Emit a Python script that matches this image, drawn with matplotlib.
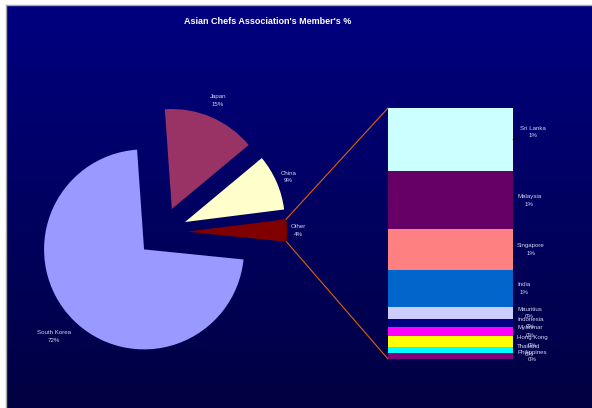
import numpy as np
import matplotlib
matplotlib.use('Agg')
import matplotlib.pyplot as plt
from matplotlib.patches import ConnectionPatch
from matplotlib.colors import LinearSegmentedColormap

# ---------------- data ----------------
title = "Asian Chefs Association's Member's %"

pie_labels = ['Japan', 'China', 'Other', 'South Korea']
pie_members = [363, 218, 87, 1742]
pie_colors = ['#993366', '#FFFFCC', '#800000', '#9999FF']

other_labels = ['Sri Lanka', 'Malaysia', 'Singapore', 'India', 'Mauritius',
                'Indonesia', 'Myanmar', 'Hong Kong', 'Thailand', 'Philippines']
other_members = [22, 20, 14, 13, 4, 3, 3, 4, 2, 2]
other_colors = ['#CCFFFF', '#660066', '#FF8080', '#0066CC', '#CCCCFF',
                '#000080', '#FF00FF', '#FFFF00', '#00FFFF', '#800080']

total = sum(pie_members)
label_color = '#D4D4F4'
font = 'Liberation Sans'
fs = 4.4
label_dist = [1.18, 1.13, 1.11, 1.25]   # layout: label distance per slice

# ---------------- figure ----------------
W, H = 592, 408
fig = plt.figure(figsize=(W / 100, H / 100), dpi=100)
fig.patch.set_facecolor('white')

# gradient background panel
bg = fig.add_axes([6 / W, 0, (W - 6) / W, (H - 5) / H])
grad = np.linspace(0, 1, 256).reshape(-1, 1)
cmap = LinearSegmentedColormap.from_list('bg', ['#000080', '#000042'])
bg.imshow(grad, aspect='auto', cmap=cmap, extent=[0, 1, 0, 1], origin='upper')
bg.set_xticks([])
bg.set_yticks([])
for s in ['right', 'bottom']:
    bg.spines[s].set_visible(False)
for s in ['left', 'top']:
    bg.spines[s].set_color('#A8A8A8')
    bg.spines[s].set_linewidth(1.0)

# pie axes (1 unit = 100 px)
ax = fig.add_axes([0, 0, 1, 1])
ax.patch.set_alpha(0)
wedges, _ = ax.pie(pie_members, colors=pie_colors, startangle=94, counterclock=False,
                   radius=1.0, center=(1.62, 1.76), explode=[0.25] * 4,
                   wedgeprops=dict(linewidth=0))
ax.set_xlim(0, W / 100)
ax.set_ylim(0, H / 100)
ax.set_axis_off()

for w, lab, m, d in zip(wedges, pie_labels, pie_members, label_dist):
    th = np.deg2rad((w.theta1 + w.theta2) / 2)
    cx, cy = w.center
    ax.text(cx + d * w.r * np.cos(th), cy + d * w.r * np.sin(th),
            f'{lab}\n{round(m / total * 100)}%', ha='center', va='center',
            multialignment='center', color=label_color, fontsize=fs,
            linespacing=1.6, family=font)

# bar of "Other"
bax = fig.add_axes([388 / W, 49 / H, 125 / W, 251 / H])
bax.patch.set_alpha(0)
other_total = sum(other_members)
tops = other_total - np.concatenate([[0], np.cumsum(other_members)[:-1]])
bottoms = tops - np.array(other_members)
bax.bar(0, other_members, bottom=bottoms, width=1.0, color=other_colors, linewidth=0)
bax.set_xlim(-0.5, 0.5)
bax.set_ylim(0, other_total)
bax.set_axis_off()

for i, (lab, m, b) in enumerate(zip(other_labels, other_members, bottoms)):
    txt = f'{lab}\n{round(m / total * 100)}%'
    mid = b + m / 2
    if i == 0:
        bax.annotate(txt, xy=(0.5, mid), xytext=(5, 5.5), textcoords='offset points',
                     ha='left', va='center', multialignment='center', color=label_color,
                     fontsize=fs, linespacing=1.6, family=font, annotation_clip=False,
                     arrowprops=dict(arrowstyle='-', color='black', lw=0.6,
                                     shrinkA=0, shrinkB=0))
    else:
        bax.annotate(txt, xy=(0.5, mid), xytext=(3, 0), textcoords='offset points',
                     ha='left', va='center', multialignment='center', color=label_color,
                     fontsize=fs, linespacing=1.6, family=font, annotation_clip=False)

# connector lines from the "Other" slice to the bar
w = wedges[2]
cx, cy = w.center
t_hi = np.deg2rad(max(w.theta1, w.theta2))
t_lo = np.deg2rad(min(w.theta1, w.theta2))
p_top = (cx + w.r * np.cos(t_hi), cy + w.r * np.sin(t_hi))
p_bot = (cx + w.r * np.cos(t_lo), cy + w.r * np.sin(t_lo))
for pA, pB in [(p_top, (-0.5, other_total)), (p_bot, (-0.5, 0))]:
    con = ConnectionPatch(xyA=pA, coordsA=ax.transData, xyB=pB, coordsB=bax.transData,
                          color='#E06010', lw=0.8)
    fig.add_artist(con)

fig.text(268 / W, 1 - 22 / H, title, ha='center', va='center', color='white',
         fontsize=6.5, fontweight='bold', family=font)

fig.savefig('out.png', dpi=100)
